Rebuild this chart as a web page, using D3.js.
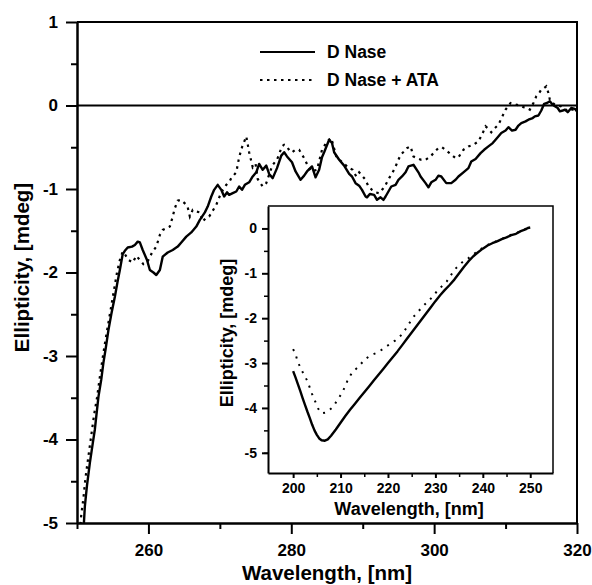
<!DOCTYPE html>
<html><head><meta charset="utf-8">
<script src="https://cdn.jsdelivr.net/npm/d3@7"></script>
<style>body{margin:0;background:#fff}svg{display:block}text{font-family:"Liberation Sans",Arial,sans-serif;font-weight:bold;fill:#000}</style>
</head><body><svg id="c" width="592" height="585"></svg>
<script>
// ---- data ----
const seriesNames = ["D Nase", "D Nase + ATA"];
const mainXTicks = [260, 280, 300, 320];
const mainYTicks = [-5, -4, -3, -2, -1, 0, 1];
const insetXTicks = [200, 210, 220, 230, 240, 250];
const insetYTicks = [-5, -4, -3, -2, -1, 0];

const dnaseWl = [250.9,251.1,251.4,251.8,252.2,252.5,253.0,253.4,253.7,254.0,254.4,254.8,255.3,255.7,256.0,256.4,256.7,257.1,257.7,258.1,258.5,258.8,259.2,259.8,260.2,260.7,261.1,261.6,262.0,262.7,263.4,264.1,264.6,265.3,266.0,266.7,267.2,267.9,268.3,268.8,269.2,269.7,270.2,270.6,271.0,271.3,271.8,272.3,272.7,273.1,273.5,274.1,274.6,275.1,275.5,276.0,276.5,276.9,277.4,278.0,278.6,279.0,279.4,280.1,280.6,281.3,281.8,282.2,282.9,283.4,283.9,284.3,284.6,285.3,285.7,286.0,286.7,287.4,288.1,288.5,289.0,289.5,289.9,290.4,290.6,291.0,291.6,292.0,292.5,292.9,293.2,293.6,294.0,294.6,295.0,295.5,296.0,296.4,297.1,297.8,298.1,298.8,299.2,299.6,300.2,300.6,301.0,301.7,302.4,303.0,303.4,304.1,304.8,305.2,305.8,306.5,307.0,307.6,308.2,308.6,309.4,310.0,310.4,310.9,311.4,311.8,312.2,312.8,313.2,313.8,314.1,314.6,315.0,315.4,315.8,316.2,316.6,316.9,317.3,317.6,318.0,318.3,318.7,319.2,319.7,320.0];
const dnaseVal = [-5.1,-4.8,-4.55,-4.28,-4.05,-3.88,-3.49,-3.28,-3.08,-2.92,-2.69,-2.5,-2.29,-2.1,-1.97,-1.78,-1.74,-1.70,-1.69,-1.67,-1.63,-1.64,-1.73,-1.85,-1.97,-2.0,-2.03,-1.97,-1.81,-1.76,-1.73,-1.69,-1.64,-1.57,-1.52,-1.45,-1.37,-1.28,-1.21,-1.09,-1.01,-0.95,-1.01,-1.09,-1.04,-1.07,-1.05,-1.03,-0.97,-1.01,-0.95,-0.92,-0.85,-0.80,-0.70,-0.77,-0.72,-0.82,-0.87,-0.75,-0.60,-0.56,-0.61,-0.68,-0.79,-0.89,-0.84,-0.79,-0.73,-0.86,-0.77,-0.62,-0.56,-0.41,-0.45,-0.56,-0.65,-0.72,-0.82,-0.85,-0.93,-0.96,-1.01,-1.09,-1.10,-1.06,-1.07,-1.13,-1.10,-1.13,-1.09,-1.03,-0.97,-0.95,-0.89,-0.85,-0.80,-0.73,-0.71,-0.80,-0.85,-0.93,-0.98,-0.92,-0.89,-0.84,-0.85,-0.93,-0.93,-0.89,-0.85,-0.80,-0.75,-0.67,-0.64,-0.57,-0.53,-0.49,-0.45,-0.41,-0.33,-0.30,-0.26,-0.30,-0.29,-0.24,-0.21,-0.19,-0.17,-0.15,-0.13,-0.12,-0.06,0.02,0.03,0.05,0.01,-0.01,-0.03,-0.07,-0.06,-0.05,-0.08,-0.03,-0.04,-0.07];

const ataWl = [250.4,250.6,250.9,251.2,251.6,252.0,252.4,252.8,253.2,253.6,254.0,254.4,254.8,255.2,255.6,256.0,256.4,256.7,257.2,257.8,258.3,258.8,259.3,259.8,260.2,260.5,261.1,261.6,262.0,262.5,263.0,263.4,263.7,264.1,264.5,264.8,265.2,265.5,265.8,266.2,266.7,267.2,267.6,268.0,268.5,269.0,269.5,270.2,270.9,271.3,271.6,272.3,272.7,273.1,273.7,274.1,274.6,275.0,275.3,276.0,276.5,277.0,277.4,278.0,278.7,279.0,279.4,279.8,280.1,280.6,281.1,281.8,282.3,282.8,283.6,284.3,285.0,285.6,286.3,287.0,288.1,288.6,289.1,289.5,290.0,290.4,290.8,291.3,291.8,292.3,292.8,293.2,293.7,294.2,294.6,295.0,295.3,295.8,296.2,296.7,297.1,297.6,298.2,298.8,299.5,300.0,300.6,301.1,301.6,302.4,303.0,303.4,304.1,304.8,305.5,306.2,306.8,307.2,307.6,308.0,308.5,309.0,309.5,310.0,310.7,311.1,311.5,312.0,312.5,313.0,313.4,313.9,314.3,314.7,315.0,315.4,315.7,316.0,316.2,316.6,316.9,317.3,317.8,318.3,318.7,319.2,319.7,320.0];
const ataVal = [-5.1,-4.9,-4.7,-4.45,-4.2,-3.95,-3.7,-3.5,-3.25,-3.02,-2.8,-2.6,-2.4,-2.2,-2.0,-1.85,-1.75,-1.78,-1.85,-1.88,-1.80,-1.85,-1.90,-1.88,-1.82,-1.76,-1.69,-1.55,-1.49,-1.47,-1.45,-1.33,-1.23,-1.14,-1.13,-1.15,-1.18,-1.22,-1.33,-1.25,-1.27,-1.28,-1.39,-1.35,-1.33,-1.26,-1.19,-1.04,-0.95,-0.92,-0.87,-0.80,-0.62,-0.50,-0.37,-0.56,-0.74,-0.70,-0.88,-0.97,-0.93,-0.80,-0.71,-0.65,-0.49,-0.47,-0.49,-0.55,-0.56,-0.53,-0.53,-0.63,-0.72,-0.79,-0.77,-0.53,-0.43,-0.39,-0.61,-0.67,-0.75,-0.77,-0.85,-0.80,-0.85,-0.89,-0.97,-1.01,-1.04,-1.05,-1.00,-0.95,-0.87,-0.80,-0.73,-0.65,-0.59,-0.55,-0.51,-0.49,-0.61,-0.63,-0.65,-0.65,-0.61,-0.56,-0.51,-0.50,-0.53,-0.59,-0.63,-0.62,-0.53,-0.49,-0.47,-0.43,-0.33,-0.25,-0.28,-0.32,-0.27,-0.23,-0.14,-0.05,0.03,0.02,0.01,0.0,-0.02,-0.03,-0.05,0.03,0.11,0.15,0.19,0.21,0.23,0.15,0.07,0.03,0.01,0.0,-0.01,-0.04,-0.07,-0.05,-0.05,-0.06];

const insetDnaseWl = [200,200.5,201,201.5,202,202.5,203,203.5,204,204.5,205,205.5,206,206.7,207.3,208,209,210,211,212,213,214,215,216,217,218,219,220,221,222,223,224,225,226,227,228,229,230,231,232,233,234,235,236,237,238,239,240,241,242,243,244,245,246,247,248,249,249.5,250];
const insetDnaseVal = [-3.18,-3.32,-3.47,-3.62,-3.78,-3.93,-4.08,-4.22,-4.37,-4.5,-4.6,-4.68,-4.72,-4.73,-4.7,-4.62,-4.48,-4.33,-4.18,-4.04,-3.91,-3.78,-3.65,-3.52,-3.39,-3.26,-3.13,-3.0,-2.87,-2.74,-2.6,-2.46,-2.32,-2.18,-2.04,-1.9,-1.76,-1.62,-1.49,-1.37,-1.26,-1.14,-1.0,-0.86,-0.73,-0.62,-0.53,-0.45,-0.38,-0.33,-0.29,-0.24,-0.2,-0.15,-0.12,-0.06,-0.02,0.01,0.02];
const insetAtaWl = [200,200.5,201,202,203,204,205.3,206,207,208.4,209.5,210.4,211.6,212.5,213.7,215.2,216.5,217.9,219.8,221.5,223,225.3,227.4,228.9,230.5,232.4,234.1,236,237,238,239,240,241,242,243,244,245,246,247,248,249,249.5,250];
const insetAtaVal = [-2.69,-2.8,-2.98,-3.2,-3.4,-3.69,-4.02,-4.12,-4.1,-3.98,-3.8,-3.65,-3.36,-3.2,-3.09,-2.91,-2.82,-2.76,-2.62,-2.5,-2.36,-1.98,-1.73,-1.58,-1.38,-1.18,-0.91,-0.72,-0.66,-0.58,-0.5,-0.43,-0.37,-0.32,-0.28,-0.23,-0.19,-0.14,-0.11,-0.05,-0.01,0.02,0.03];

// ---- chart ----
const svg = d3.select("#c");
const M = {l:77, t:22, r:577, b:523};
const x = d3.scaleLinear().domain([250,320]).range([M.l, M.r]);
const y = d3.scaleLinear().domain([-5,1]).range([M.b, M.t]);

svg.append("clipPath").attr("id","cm").append("rect")
  .attr("x",M.l).attr("y",M.t).attr("width",M.r-M.l).attr("height",M.b-M.t);

svg.append("path").attr("d",`M${M.l},${M.t}H${M.r}V${M.b}`).attr("fill","none").attr("stroke","#000").attr("stroke-width",2);
svg.append("line").attr("x1",M.l).attr("x2",M.r).attr("y1",y(0)).attr("y2",y(0)).attr("stroke","#000").attr("stroke-width",2);

const line = (xs, ys, X, Y) => d3.line().x((d,i)=>X(xs[i])).y((d,i)=>Y(ys[i]))(ys);

const gm = svg.append("g").attr("clip-path","url(#cm)");
gm.append("path").attr("d", line(dnaseWl, dnaseVal, x, y)).attr("fill","none").attr("stroke","#000").attr("stroke-width",2.4).attr("stroke-linejoin","round");
gm.append("path").attr("d", line(ataWl, ataVal, x, y)).attr("fill","none").attr("stroke","#000").attr("stroke-width",2.2).attr("stroke-dasharray","2.5,4.5");

function styleAxis(g, fs){
  g.select(".domain").attr("stroke-width",2.5);
  g.selectAll(".tick line").attr("stroke-width",2);
  g.selectAll("text").attr("font-size",fs).attr("font-family","Liberation Sans, Arial, sans-serif").attr("font-weight","bold");
}
const xAx = svg.append("g").attr("transform",`translate(0,${M.b})`)
  .call(d3.axisBottom(x).tickValues(mainXTicks).tickSize(11).tickPadding(7).tickFormat(d3.format("d")).tickSizeOuter(0));
styleAxis(xAx, 17);
svg.append("g").attr("transform",`translate(0,${M.b})`)
  .call(d3.axisBottom(x).tickValues([250,270,290,310]).tickSize(6).tickFormat("").tickSizeOuter(0))
  .call(g=>{g.select(".domain").remove(); g.selectAll("line").attr("stroke-width",2);});
const yAx = svg.append("g").attr("transform",`translate(${M.l},0)`)
  .call(d3.axisLeft(y).tickValues(mainYTicks).tickSize(11).tickPadding(8).tickFormat(d3.format("d")).tickSizeOuter(0));
styleAxis(yAx, 17);
yAx.selectAll("text").text(d=>d<0?"-"+Math.abs(d):d);
svg.append("g").attr("transform",`translate(${M.l},0)`)
  .call(d3.axisLeft(y).tickValues([-4.5,-3.5,-2.5,-1.5,-0.5,0.5]).tickSize(6).tickFormat("").tickSizeOuter(0))
  .call(g=>{g.select(".domain").remove(); g.selectAll("line").attr("stroke-width",2);});
xAx.selectAll("text").attr("dy","0.9em");

svg.append("text").attr("x",(M.l+M.r)/2).attr("y",580).attr("text-anchor","middle").attr("font-size",20.5).text("Wavelength, [nm]");
svg.append("text").attr("transform",`translate(29,${(M.t+M.b)/2-5}) rotate(-90)`).attr("text-anchor","middle").attr("font-size",20.5).text("Ellipticity, [mdeg]");

const lg = svg.append("g");
[[0,null],[1,"2.5,4.5"]].forEach(([i,da])=>{
  const ly = 52 + i*28;
  const l = lg.append("line").attr("x1",260).attr("x2",315).attr("y1",ly).attr("y2",ly).attr("stroke","#000").attr("stroke-width",2.2);
  if(da) l.attr("stroke-dasharray",da);
  lg.append("text").attr("x",327).attr("y",ly+6).attr("font-size",17.5).text(seriesNames[i]);
});

// ---- inset ----
const I = {l:268, t:206, r:553, b:473};
const ix = d3.scaleLinear().domain([194.7,254.8]).range([I.l, I.r]);
const iy = d3.scaleLinear().domain([-5.45,0.5]).range([I.b, I.t]);
svg.append("rect").attr("x",I.l).attr("y",I.t).attr("width",I.r-I.l).attr("height",I.b-I.t).attr("fill","#fff");
svg.append("path").attr("d",`M${I.l},${I.t}H${I.r}V${I.b}`).attr("fill","none").attr("stroke","#000").attr("stroke-width",1.5);
svg.append("clipPath").attr("id","ci").append("rect").attr("x",I.l).attr("y",I.t).attr("width",I.r-I.l).attr("height",I.b-I.t);
const gi = svg.append("g").attr("clip-path","url(#ci)");
gi.append("path").attr("d", line(insetDnaseWl, insetDnaseVal, ix, iy)).attr("fill","none").attr("stroke","#000").attr("stroke-width",2.4).attr("stroke-linejoin","round");
gi.append("path").attr("d", line(insetAtaWl, insetAtaVal, ix, iy)).attr("fill","none").attr("stroke","#000").attr("stroke-width",2).attr("stroke-dasharray","2,6");

const ixAx = svg.append("g").attr("transform",`translate(0,${I.b})`)
  .call(d3.axisBottom(ix).tickValues(insetXTicks).tickSize(5).tickPadding(5).tickFormat(d3.format("d")).tickSizeOuter(0));
styleAxis(ixAx, 14);
ixAx.select(".domain").attr("stroke-width",2);
svg.append("g").attr("transform",`translate(0,${I.b})`)
  .call(d3.axisBottom(ix).tickValues([205,215,225,235,245]).tickSize(4).tickFormat("").tickSizeOuter(0))
  .call(g=>{g.select(".domain").remove(); g.selectAll("line").attr("stroke-width",1.5);});
const iyAx = svg.append("g").attr("transform",`translate(${I.l},0)`)
  .call(d3.axisLeft(iy).tickValues(insetYTicks).tickSize(6).tickPadding(5).tickFormat(d3.format("d")).tickSizeOuter(0));
styleAxis(iyAx, 14);
iyAx.select(".domain").attr("stroke-width",2);
iyAx.selectAll("text").text(d=>d<0?"-"+Math.abs(d):d);
svg.append("g").attr("transform",`translate(${I.l},0)`)
  .call(d3.axisLeft(iy).tickValues([-5,-4.5,-3.5,-2.5,-1.5,-0.5]).tickSize(4).tickFormat("").tickSizeOuter(0))
  .call(g=>{g.select(".domain").remove(); g.selectAll("line").attr("stroke-width",1.5);});

svg.append("text").attr("x",409).attr("y",515).attr("text-anchor","middle").attr("font-size",18).text("Wavelength, [nm]");
svg.append("text").attr("transform",`translate(233,333) rotate(-90)`).attr("text-anchor","middle").attr("font-size",18).text("Ellipticity, [mdeg]");
</script></body></html>
